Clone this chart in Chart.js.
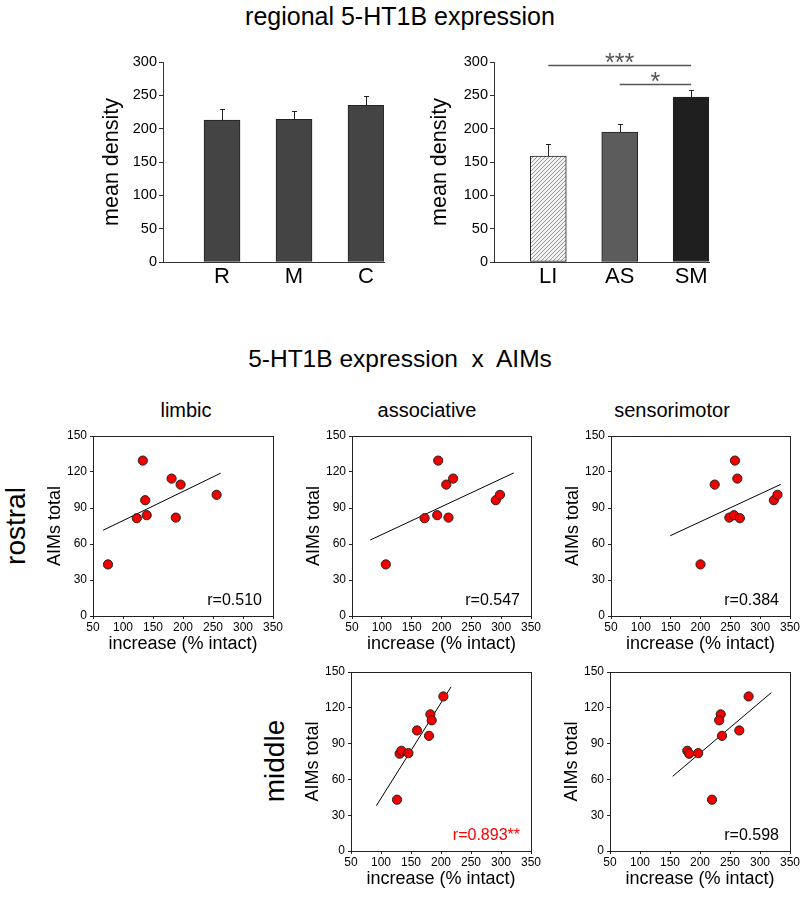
<!DOCTYPE html>
<html><head><meta charset="utf-8">
<script src="https://cdn.jsdelivr.net/npm/chart.js@4.4.0/dist/chart.umd.min.js"></script>
<style>
html,body{margin:0;padding:0;background:#fff;overflow:hidden;}
body{width:800px;height:898px;position:relative;font-family:"Liberation Sans",Arial,Helvetica,sans-serif;color:#000;}
.t{position:absolute;white-space:pre;line-height:1;}
canvas{position:absolute;}
</style></head><body>
<script>
// ---------- data ----------
const regionCats = ['R', 'M', 'C'];
const regionMeans = [213, 214, 235];
const regionSEM = [16, 13, 13.5];

const territoryCats = ['LI', 'AS', 'SM'];
const territoryMeans = [159, 195, 247.5];
const territorySEM = [18, 12, 10];

const sigFrom = [1, 2];
const sigTo = [3, 3];
const sigLevel = [295, 267];
const sigLabels = ['***', '*'];

const limbicRostralX = [75, 133, 137, 123, 139.5, 181, 196, 188, 256];
const limbicRostralY = [43, 129.5, 96.5, 81.5, 84, 114.5, 109.5, 82, 101];
const limbicRostralFitX = [66.7, 262.8];
const limbicRostralFitY = [71.4, 119];

const assocRostralX = [106.7, 194.5, 219.5, 208, 171.7, 192.8, 211.7, 291, 298];
const assocRostralY = [43, 129.5, 114.5, 109.5, 81.5, 84, 82, 96.5, 101];
const assocRostralFitX = [80.5, 321];
const assocRostralFitY = [63.3, 119.2];

const smRostralX = [200, 223.8, 257.7, 261.7, 248.3, 256, 266, 323, 329];
const smRostralY = [43, 109.5, 129.5, 114.5, 82, 84, 81.5, 96.5, 101];
const smRostralFitX = [149.3, 334.5];
const smRostralFitY = [66.9, 109.7];

const assocMiddleX = [126.7, 204, 182.3, 184.5, 160, 180, 131, 134, 145.7];
const assocMiddleY = [43, 129.5, 114.5, 109.5, 101, 96.5, 81.5, 84, 82];
const assocMiddleFitX = [92.3, 216.7];
const assocMiddleFitY = [38, 137.5];

const smMiddleX = [220, 281, 234.5, 232, 265.5, 236.7, 178.8, 182, 197];
const smMiddleY = [43, 129.5, 114.5, 109.5, 101, 96.5, 84, 81.5, 82];
const smMiddleFitX = [154.5, 318.8];
const smMiddleFitY = [62.6, 132.7];

const rLabels = ['r=0.510', 'r=0.547', 'r=0.384', 'r=0.893**', 'r=0.598'];

// ---------- helpers ----------
const FONT = '"Liberation Sans", Arial, Helvetica, sans-serif';
Chart.defaults.font.family = FONT;
Chart.defaults.color = '#000';

function addText(txt, x, y, size, opts) {
  opts = opts || {};
  const d = document.createElement('div');
  d.className = 't';
  d.textContent = txt;
  d.style.fontSize = size + 'px';
  d.style.left = x + 'px';
  d.style.top = y + 'px';
  if (opts.color) d.style.color = opts.color;
  d.style.transform = opts.rotate ? 'translate(-50%,-50%) rotate(-90deg)' : 'translateX(-50%)';
  document.body.appendChild(d);
}
function makeCanvas(l, t, w, h) {
  const c = document.createElement('canvas');
  c.width = Math.round(w); c.height = Math.round(h);
  c.style.left = l + 'px'; c.style.top = t + 'px';
  c.style.width = Math.round(w) + 'px'; c.style.height = Math.round(h) + 'px';
  document.body.appendChild(c);
  return c;
}
function hatchPattern() {
  const c = document.createElement('canvas');
  c.width = 4; c.height = 4;
  const g = c.getContext('2d');
  g.fillStyle = '#f2f2f2'; g.fillRect(0, 0, 4, 4);
  g.strokeStyle = '#8c8c8c'; g.lineWidth = 0.9;
  g.beginPath();
  g.moveTo(0, 4); g.lineTo(4, 0);
  g.moveTo(-2, 2); g.lineTo(2, -2);
  g.moveTo(2, 6); g.lineTo(6, 2);
  g.stroke();
  return g.createPattern(c, 'repeat');
}

// ---------- bar charts ----------
function barChart(cfg) {
  const L = 70, padTop = 12, padRight = 10, B = 34;
  const cl = cfg.areaL - L, ct = cfg.areaT - padTop;
  const cw = cfg.areaR - cl + padRight, ch = cfg.areaB - ct + B;
  const cv = makeCanvas(cl, ct, cw, ch);
  const pos = cfg.cats.map((c, i) => i + 1);
  const errPlugin = {
    id: 'err',
    afterDatasetsDraw(chart) {
      const ctx = chart.ctx, xs = chart.scales.x, ys = chart.scales.y;
      ctx.save();
      ctx.strokeStyle = '#222'; ctx.lineWidth = 1;
      pos.forEach((p, i) => {
        const x = Math.round(xs.getPixelForValue(p)) + 0.5;
        const y0 = ys.getPixelForValue(cfg.means[i]);
        const y1 = Math.round(ys.getPixelForValue(cfg.means[i] + cfg.sems[i])) + 0.5;
        ctx.beginPath();
        ctx.moveTo(x, y0); ctx.lineTo(x, y1);
        ctx.moveTo(x - 2.5, y1); ctx.lineTo(x + 2.5, y1);
        ctx.stroke();
      });
      ctx.restore();
    }
  };
  const sigPlugin = {
    id: 'sig',
    afterDraw(chart) {
      if (!cfg.sig) return;
      const ctx = chart.ctx, xs = chart.scales.x, ys = chart.scales.y;
      ctx.save();
      cfg.sig.from.forEach((f, i) => {
        const x0 = xs.getPixelForValue(f), x1 = xs.getPixelForValue(cfg.sig.to[i]);
        const y = Math.round(ys.getPixelForValue(cfg.sig.level[i])) + 0.5;
        ctx.strokeStyle = '#555'; ctx.lineWidth = 1.5;
        ctx.beginPath(); ctx.moveTo(x0, y); ctx.lineTo(x1, y); ctx.stroke();
        ctx.fillStyle = '#555';
        ctx.font = '25px ' + FONT;
        ctx.textAlign = 'center'; ctx.textBaseline = 'middle';
        ctx.fillText(cfg.sig.labels[i], (x0 + x1) / 2, y - 1);
      });
      ctx.restore();
    }
  };
  const yTitleFont = 21.5;
  new Chart(cv, {
    type: 'bar',
    data: { datasets: [{
      data: pos.map((p, i) => ({ x: p, y: cfg.means[i] })),
      backgroundColor: cfg.colors,
      borderColor: '#222', borderWidth: 1, barThickness: 36, borderSkipped: false
    }] },
    options: {
      responsive: false, animation: false, devicePixelRatio: 1,
      layout: { padding: { top: padTop, right: padRight, left: 0, bottom: 0 } },
      plugins: { legend: { display: false }, tooltip: { enabled: false } },
      scales: {
        x: {
          type: 'linear', min: cfg.xMin, max: cfg.xMax, offset: false,
          afterBuildTicks: s => { s.ticks = pos.map(v => ({ value: v })); },
          ticks: { callback: v => cfg.cats[v - 1], font: { size: 22 }, color: '#000', padding: 1.5, maxRotation: 0, autoSkip: false },
          grid: { display: false, drawTicks: false },
          border: { display: true, color: '#333', width: 1 },
          afterFit: s => { s.height = B; }
        },
        y: {
          min: 0, max: 300,
          ticks: { stepSize: 50, font: { size: 14.5 }, color: '#000', padding: 2 },
          grid: { display: true, drawOnChartArea: false, drawTicks: true, tickLength: 4, color: '#333' },
          border: { display: true, color: '#333', width: 1 },
          title: { display: true, text: 'mean density', font: { size: yTitleFont }, color: '#000',
                   padding: { top: cfg.titleX - cl - yTitleFont * 0.6, bottom: 0 } },
          afterFit: s => { s.width = L; }
        }
      }
    },
    plugins: [errPlugin, sigPlugin]
  });
}

// ---------- scatter charts ----------
function scatterChart(cfg) {
  const L = 60, padTop = 12, padRight = 14, B = 44;
  const cl = cfg.areaL - L, ct = cfg.areaT - padTop;
  const cw = cfg.areaR - cl + padRight, ch = cfg.areaB - ct + B;
  const cv = makeCanvas(cl, ct, cw, ch);
  const tf = 18;
  const boxPlugin = {
    id: 'box',
    beforeDatasetsDraw(chart) {
      const a = chart.chartArea, ctx = chart.ctx;
      ctx.save();
      ctx.strokeStyle = '#222'; ctx.lineWidth = 1;
      ctx.strokeRect(Math.round(a.left) + 0.5, Math.round(a.top) + 0.5,
                     Math.round(a.right) - Math.round(a.left), Math.round(a.bottom) - Math.round(a.top));
      ctx.restore();
    },
    afterDraw(chart) {
      const a = chart.chartArea, ctx = chart.ctx;
      ctx.save();
      ctx.fillStyle = cfg.rColor || '#000';
      ctx.font = '16px ' + FONT;
      ctx.textAlign = 'right'; ctx.textBaseline = 'middle';
      ctx.fillText(cfg.rText, a.right - 11, a.bottom - 15);
      ctx.restore();
    }
  };
  new Chart(cv, {
    type: 'scatter',
    data: { datasets: [
      { data: cfg.xs.map((x, i) => ({ x: x, y: cfg.ys[i] })), pointRadius: 4.6,
        pointBackgroundColor: '#f20000', pointBorderColor: '#222', pointBorderWidth: 1 },
      { type: 'line', data: cfg.fitX.map((x, i) => ({ x: x, y: cfg.fitY[i] })),
        borderColor: '#000', borderWidth: 1, pointRadius: 0, fill: false, tension: 0 }
    ] },
    options: {
      responsive: false, animation: false, devicePixelRatio: 1,
      layout: { padding: { top: padTop, right: padRight, left: 0, bottom: 0 } },
      plugins: { legend: { display: false }, tooltip: { enabled: false } },
      scales: {
        x: {
          type: 'linear', min: 50, max: 350,
          ticks: { stepSize: 50, font: { size: 12 }, color: '#000', padding: 1.5, maxRotation: 0 },
          grid: { display: true, drawOnChartArea: false, drawTicks: true, tickLength: 3, color: '#222' },
          border: { display: false },
          title: { display: true, text: 'increase (% intact)', font: { size: tf }, color: '#000',
                   padding: { top: 0, bottom: B - 28.5 - tf * 0.6 } },
          afterFit: s => { s.height = B; }
        },
        y: {
          type: 'linear', min: 0, max: 150,
          ticks: { stepSize: 30, font: { size: 12 }, color: '#000', padding: 3 },
          grid: { display: true, drawOnChartArea: false, drawTicks: true, tickLength: 3, color: '#222' },
          border: { display: false },
          title: { display: true, text: 'AIMs total', font: { size: tf }, color: '#000',
                   padding: { top: L - 38 - tf * 0.6, bottom: 0 } },
          afterFit: s => { s.width = L; }
        }
      }
    },
    plugins: [boxPlugin]
  });
}

// ---------- texts ----------
addText('regional 5-HT1B expression', 400, 4.2, 25);
addText('5-HT1B expression  x  AIMs', 400, 346.5, 24.5);
addText('limbic', 186, 400, 20);
addText('associative', 427, 400, 20);
addText('sensorimotor', 672, 400, 20);
addText('rostral', 16, 526, 28, { rotate: true });
addText('middle', 275, 761, 28, { rotate: true });

// ---------- draw ----------
barChart({ areaL: 162.5, areaR: 383, areaT: 62, areaB: 262, xMin: 0.18, xMax: 3.25,
  cats: regionCats, means: regionMeans, sems: regionSEM, titleX: 112,
  colors: ['#444444', '#444444', '#444444'] });

barChart({ areaL: 494, areaR: 709, areaT: 62, areaB: 262, xMin: 0.24, xMax: 3.25,
  cats: territoryCats, means: territoryMeans, sems: territorySEM, titleX: 440,
  colors: [hatchPattern(), '#5c5c5c', '#1f1f1f'],
  sig: { from: sigFrom, to: sigTo, level: sigLevel, labels: sigLabels } });

scatterChart({ areaL: 93, areaR: 273, areaT: 436, areaB: 616,
  xs: limbicRostralX, ys: limbicRostralY, fitX: limbicRostralFitX, fitY: limbicRostralFitY, rText: rLabels[0] });
scatterChart({ areaL: 352, areaR: 531, areaT: 436, areaB: 616,
  xs: assocRostralX, ys: assocRostralY, fitX: assocRostralFitX, fitY: assocRostralFitY, rText: rLabels[1] });
scatterChart({ areaL: 611, areaR: 790, areaT: 436, areaB: 616,
  xs: smRostralX, ys: smRostralY, fitX: smRostralFitX, fitY: smRostralFitY, rText: rLabels[2] });
scatterChart({ areaL: 351, areaR: 531, areaT: 672, areaB: 851,
  xs: assocMiddleX, ys: assocMiddleY, fitX: assocMiddleFitX, fitY: assocMiddleFitY, rText: rLabels[3], rColor: '#ff0000' });
scatterChart({ areaL: 610, areaR: 790, areaT: 672, areaB: 851,
  xs: smMiddleX, ys: smMiddleY, fitX: smMiddleFitX, fitY: smMiddleFitY, rText: rLabels[4] });
</script>
</body></html>
